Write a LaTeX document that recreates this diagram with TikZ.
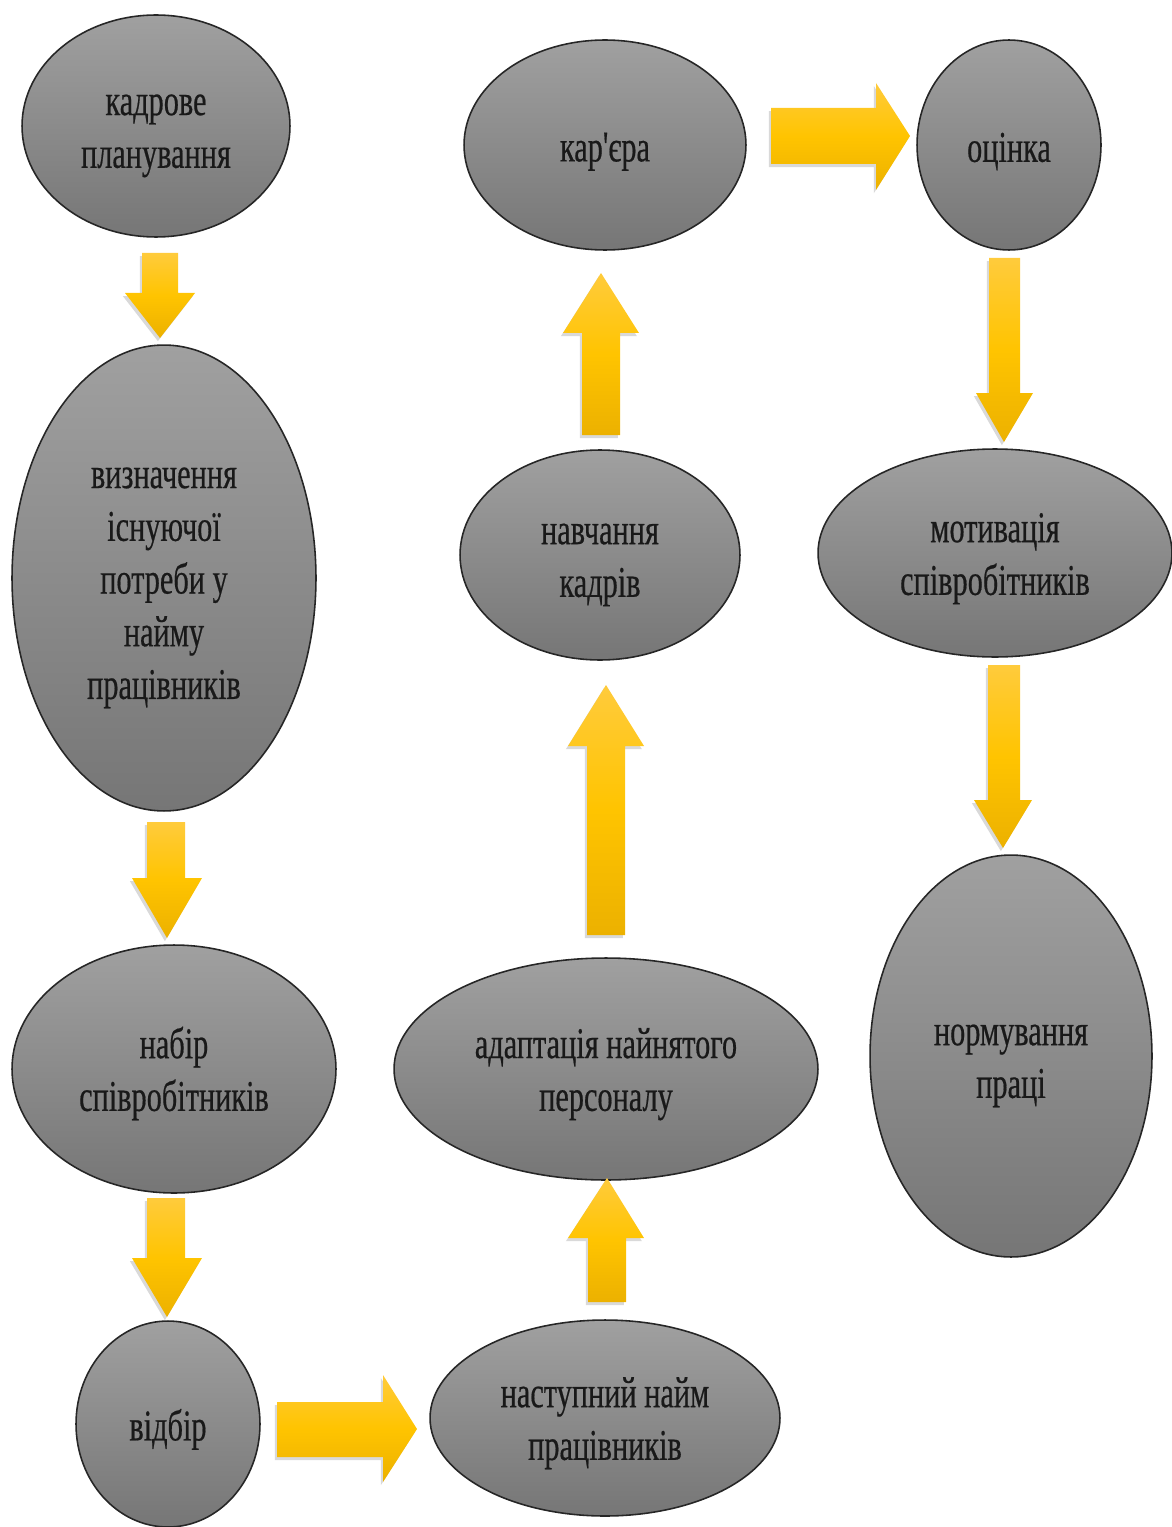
\documentclass[tikz,border=0pt]{standalone}
\usepackage{fontspec}
\setmainfont{Liberation Serif}[FakeStretch=0.69,FakeBold=0.4,Ligatures=TeXOff]
\usetikzlibrary{shapes.geometric,shadows}
\definecolor{stagetop}{HTML}{A0A0A0}
\definecolor{stagebot}{HTML}{767676}
\definecolor{arrtop}{HTML}{FFCB3C}
\definecolor{arrmid}{HTML}{FFC400}
\definecolor{arrbot}{HTML}{ECB100}
\newcommand{\gapup}{\rule{0pt}{23pt}}
\tikzset{
    stage/.style={ellipse,draw=black!85,line width=0.9pt,inner sep=0pt,
        top color=stagetop,bottom color=stagebot,align=center,
        font=\fontsize{25}{30}\selectfont,text=black!90,
        execute at begin node={\rule{0pt}{24pt}}},
    yarrow/.style={top color=arrtop,bottom color=arrbot,middle color=arrmid,
        drop shadow={shadow xshift=-1.2pt,shadow yshift=-1.8pt,opacity=0.3}}
}
\begin{document}
\begin{tikzpicture}[x=0.02cm,y=-0.02cm]
    \useasboundingbox (0,0) rectangle (1171,1527);

    \node[stage,minimum width=5.36cm,minimum height=4.44cm] (plan) at (156,126) {\gapup кадрове\\планування};
    \node[stage,minimum width=6.08cm,minimum height=9.32cm] (need) at (164,578) {\gapup визначення\\існуючої\\потреби у\\найму\\працівників};
    \node[stage,minimum width=6.48cm,minimum height=4.96cm] (recruit) at (174,1069) {\gapup набір\\співробітників};
    \node[stage,minimum width=3.68cm,minimum height=4.12cm] (select) at (168,1424) {відбір};
    \node[stage,minimum width=7.0cm,minimum height=3.92cm] (hire) at (605,1418) {\gapup наступний найм\\працівників};
    \node[stage,minimum width=8.48cm,minimum height=4.44cm] (adapt) at (606,1069) {\gapup адаптація найнятого\\персоналу};
    \node[stage,minimum width=5.6cm,minimum height=4.2cm] (train) at (600,555) {\gapup навчання\\кадрів};
    \node[stage,minimum width=5.64cm,minimum height=4.2cm] (career) at (605,145) {кар'єра};
    \node[stage,minimum width=3.68cm,minimum height=4.2cm] (assess) at (1009,145) {оцінка};
    \node[stage,minimum width=7.08cm,minimum height=4.16cm] (motiv) at (995,553) {\gapup мотивація\\співробітників};
    \node[stage,minimum width=5.64cm,minimum height=8.04cm] (norm) at (1011,1056) {\gapup нормування\\праці};

    \shade[yarrow] (142,253) -- (178,253) -- (178,293) -- (195,293) -- (160,338) -- (125,293) -- (142,293) -- cycle;
    \shade[yarrow] (147,822) -- (185,822) -- (185,878) -- (202,878) -- (167,938) -- (132,878) -- (147,878) -- cycle;
    \shade[yarrow] (147,1198) -- (185,1198) -- (185,1258) -- (202,1258) -- (167,1317) -- (132,1258) -- (147,1258) -- cycle;
    \shade[yarrow] (277,1402) -- (383,1402) -- (383,1375) -- (417,1429) -- (383,1482) -- (383,1457) -- (277,1457) -- cycle;
    \shade[yarrow] (588,1302) -- (588,1238) -- (568,1238) -- (607,1178) -- (644,1238) -- (626,1238) -- (626,1302) -- cycle;
    \shade[yarrow] (587,935) -- (587,746) -- (568,746) -- (606,685) -- (644,746) -- (625,746) -- (625,935) -- cycle;
    \shade[yarrow] (582,435) -- (582,333) -- (563,333) -- (601,273) -- (639,333) -- (620,333) -- (620,435) -- cycle;
    \shade[yarrow] (771,108) -- (876,108) -- (876,83) -- (910,136) -- (876,190) -- (876,164) -- (771,164) -- cycle;
    \shade[yarrow] (989,258) -- (1020,258) -- (1020,393) -- (1033,393) -- (1004,442) -- (976,393) -- (989,393) -- cycle;
    \shade[yarrow] (988,665) -- (1020,665) -- (1020,800) -- (1032,800) -- (1003,848) -- (974,800) -- (988,800) -- cycle;
\end{tikzpicture}
\end{document}
